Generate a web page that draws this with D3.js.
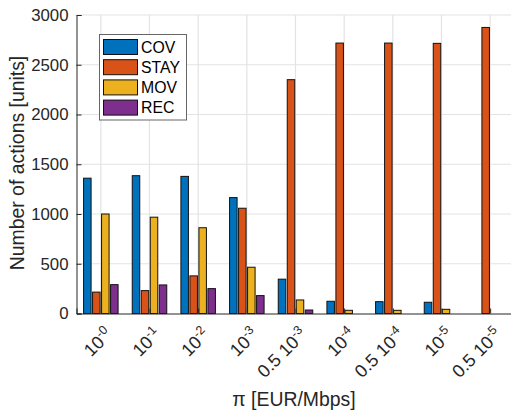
<!DOCTYPE html>
<html>
<head>
<meta charset="utf-8">
<script src="https://cdn.jsdelivr.net/npm/d3@7"></script>
<style>
  html, body { margin: 0; padding: 0; background: #fff; overflow: hidden; }
  svg { display: block; font-family: "Liberation Sans", Arial, Helvetica, sans-serif; }
</style>
</head>
<body>
<svg id="chart" width="511" height="411"></svg>
<script>
// Price levels (base and exponent of each tick label)
const priceBase = ["10", "10", "10", "10", "0.5 10", "10", "0.5 10", "10", "0.5 10"];
const priceExp  = ["-0", "-1", "-2", "-3", "-3", "-4", "-4", "-5", "-5"];

// Action types
const seriesNames  = ["COV", "STAY", "MOV", "REC"];
const seriesColors = ["#0072BD", "#D95319", "#EDB120", "#7E2F8E"];

// Number of actions per price level
const covValues  = [1360, 1385, 1378, 1165, 345, 123, 119, 113, 0];
const stayValues = [215, 230, 378, 1058, 2350, 2718, 2718, 2715, 2875];
const movValues  = [1000, 968, 862, 465, 136, 32, 32, 42, 0];
const recValues  = [290, 287, 250, 180, 35, 0, 0, 0, 0];

const yTicks = [0, 500, 1000, 1500, 2000, 2500, 3000];

const seriesValues = [covValues, stayValues, movValues, recValues];
const categories = priceBase.map((b, i) => i);

const svg = d3.select("#chart");
const textColor = "#262626";

const plotLeft = 76.5, plotRight = 514.5, plotTop = 15, plotBottom = 313.5;

const x0 = d3.scaleBand().domain(categories).range([plotLeft, plotRight]).padding(0);
const x1 = d3.scaleBand().domain(seriesNames).range([-18, 18])
  .paddingInner(1 / 6).paddingOuter(1 / 12);
const y = d3.scaleLinear().domain([0, 3000]).range([plotBottom, plotTop]);

const cx = i => x0(i) + x0.bandwidth() / 2;

// grid
const grid = svg.append("g");
grid.selectAll("line.h").data(yTicks.filter(t => t > 0)).join("line")
  .attr("x1", plotLeft).attr("x2", plotRight)
  .attr("y1", d => y(d)).attr("y2", d => y(d))
  .attr("stroke", "#e3e3e3").attr("stroke-width", 1.2);
grid.selectAll("line.v").data(categories).join("line")
  .attr("x1", d => cx(d)).attr("x2", d => cx(d))
  .attr("y1", plotTop).attr("y2", plotBottom)
  .attr("stroke", "#e3e3e3").attr("stroke-width", 1.2);

// bars
const barsG = svg.append("g");
seriesNames.forEach((name, s) => {
  barsG.append("g").selectAll("rect").data(seriesValues[s]).join("rect")
    .attr("x", (d, i) => cx(i) + x1(name))
    .attr("width", x1.bandwidth())
    .attr("y", d => y(d))
    .attr("height", d => Math.max(0, plotBottom - y(d)))
    .attr("fill", seriesColors[s])
    .attr("stroke", "#111")
    .attr("stroke-width", 1);
});

// y axis
const yAxis = d3.axisLeft(y).tickValues(yTicks).tickSize(-5).tickPadding(8)
  .tickFormat(d3.format("d"));
const yg = svg.append("g").attr("transform", `translate(${plotLeft},0)`).call(yAxis);
yg.select(".domain").attr("stroke", textColor).attr("stroke-width", 1);
yg.selectAll(".tick line").attr("stroke", textColor);
yg.selectAll(".tick text").attr("fill", textColor)
  .style("font-size", "16.8px").style("font-family", "Liberation Sans, Arial, sans-serif");

// x axis
const xAxis = d3.axisBottom(d3.scaleLinear().domain([plotLeft, plotRight]).range([plotLeft, plotRight]))
  .tickValues(categories.map(cx)).tickSize(-5).tickFormat("");
const xg = svg.append("g").attr("transform", `translate(0,${plotBottom})`).call(xAxis);
xg.select(".domain").attr("stroke", textColor).attr("stroke-width", 1);
xg.selectAll(".tick line").attr("stroke", textColor);

// rotated tick labels with exponents
const xl = svg.append("g");
categories.forEach(i => {
  const t = xl.append("text")
    .attr("transform", `translate(${cx(i) + 12.5},${plotBottom + 22}) rotate(-45)`)
    .attr("text-anchor", "end")
    .attr("fill", textColor)
    .style("font-size", "18px");
  t.append("tspan").text(priceBase[i]);
  t.append("tspan").attr("dy", -7).style("font-size", "12.5px").text(priceExp[i]);
});

// axis titles
svg.append("text")
  .attr("transform", `translate(24,163) rotate(-90)`)
  .attr("text-anchor", "middle").attr("fill", textColor)
  .style("font-size", "19.4px")
  .text("Number of actions [units]");

svg.append("text")
  .attr("x", 294).attr("y", 406)
  .attr("text-anchor", "middle").attr("fill", textColor)
  .style("font-size", "19.4px")
  .text("π [EUR/Mbps]");

// legend
const lg = svg.append("g");
lg.append("rect")
  .attr("x", 99.5).attr("y", 34.5).attr("width", 87).attr("height", 85.5)
  .attr("fill", "#fff").attr("stroke", "#666").attr("stroke-width", 1);
seriesNames.forEach((name, s) => {
  const ry = 39.5 + s * 20.2;
  lg.append("rect")
    .attr("x", 103.5).attr("y", ry).attr("width", 34).attr("height", 15)
    .attr("fill", seriesColors[s]).attr("stroke", "#111").attr("stroke-width", 1);
  lg.append("text")
    .attr("x", 141).attr("y", ry + 13.2)
    .attr("fill", "#000")
    .style("font-size", "15.8px")
    .text(name);
});
</script>
</body>
</html>
